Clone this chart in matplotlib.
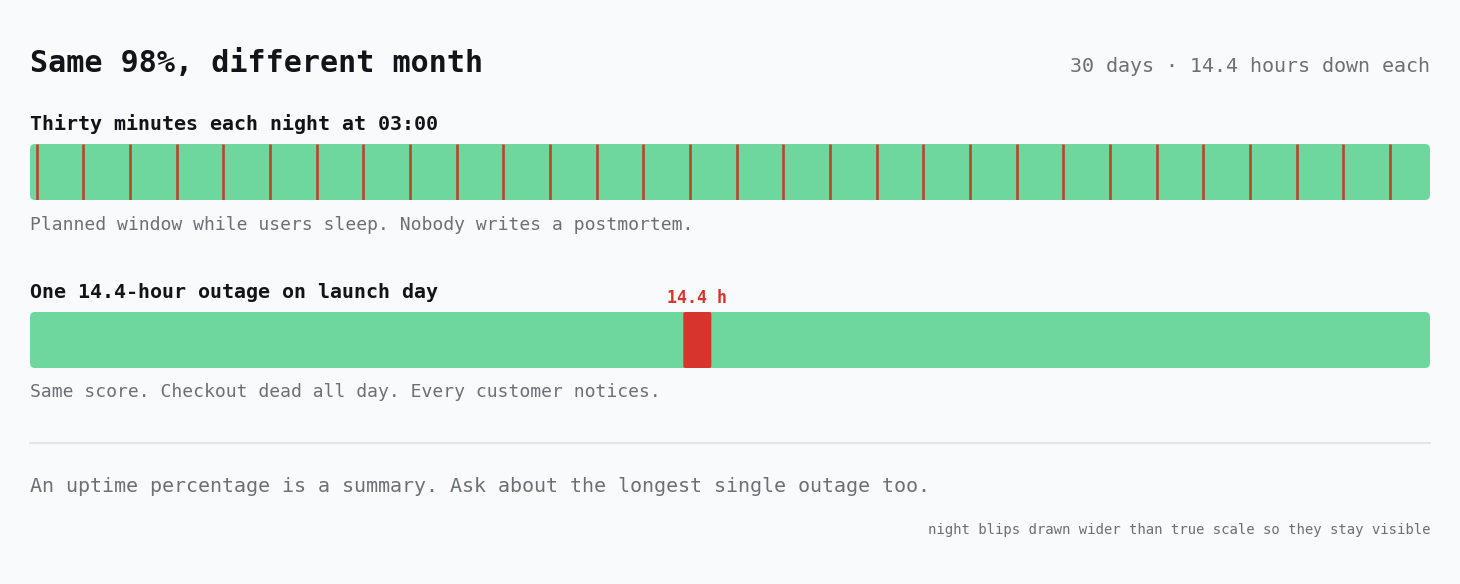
import matplotlib
matplotlib.use("Agg")
import matplotlib.pyplot as plt
from matplotlib.patches import FancyBboxPatch

# ---- data ----
n_days = 30
blip_days = list(range(30))          # one blip per night
blip_start_hour = 3.0                # 03:00
blip_true_minutes = 30
outage_day = 14
outage_hours = 14.4

title = "Same 98%, different month"
subtitle_right = "30 days · 14.4 hours down each"
row_titles = ["Thirty minutes each night at 03:00", "One 14.4-hour outage on launch day"]
row_notes = ["Planned window while users sleep. Nobody writes a postmortem.",
             "Same score. Checkout dead all day. Every customer notices."]
outage_label = "14.4 h"
takeaway = "An uptime percentage is a summary. Ask about the longest single outage too."
footnote = "night blips drawn wider than true scale so they stay visible"

# ---- style ----
W, H = 1460, 584
BG = "#f8fafc"
GREEN = "#6dd79d"
RED = "#d7342b"
BLIP = "#b9452e"
DARK = "#111418"
GRAY = "#6b7076"
MONO = ["DejaVu Sans Mono"]

fig = plt.figure(figsize=(W / 100, H / 100), dpi=100, facecolor=BG)

def fx(px):
    return px / W

def fy(py):
    return 1 - py / H

def add_bar_axes(top_px):
    ax = fig.add_axes([fx(30), fy(top_px + 56), fx(1400), 56 / H])
    ax.set_xlim(0, n_days)
    ax.set_ylim(0, 1)
    ax.axis("off")
    ax.patch.set_alpha(0)
    px_per_x = 1400 / n_days
    px_per_y = 56
    aspect = (1 / px_per_y) / (1 / px_per_x)
    bg = FancyBboxPatch((0, 0), n_days, 1,
                        boxstyle=f"round,pad=0,rounding_size={5 / px_per_x}",
                        mutation_aspect=aspect, fc=GREEN, ec="none", zorder=1)
    ax.add_patch(bg)
    return ax, bg, px_per_x, aspect

# Row 1: nightly blips (drawn as fixed-width lines, wider than true scale)
ax1, bg1, ppx, asp = add_bar_axes(144)
blip_x = [d + (blip_start_hour + blip_true_minutes / 60) / 24 for d in blip_days]
lc = ax1.vlines(blip_x, 0, 1, colors=BLIP, linewidth=1.9, zorder=2)
lc.set_clip_path(bg1)

# Row 2: single outage
ax2, bg2, ppx, asp = add_bar_axes(312)
ow = outage_hours / 24
blk = FancyBboxPatch((outage_day, 0), ow, 1,
                     boxstyle=f"round,pad=0,rounding_size={2 / ppx}",
                     mutation_aspect=asp, fc=RED, ec="none", zorder=2)
ax2.add_patch(blk)
ax2.text(outage_day + ow / 2, 1 + 14 / 56, outage_label, ha="center", va="center",
         fontsize=12, fontweight="bold", color=RED, family=MONO, clip_on=False)

# ---- texts ----
fig.text(fx(30), fy(63), title, fontsize=21.6, fontweight="bold", color=DARK,
         family=MONO, ha="left", va="center")
fig.text(fx(1430), fy(66), subtitle_right, fontsize=14.4, color=GRAY,
         family=MONO, ha="right", va="center")
fig.text(fx(30), fy(124), row_titles[0], fontsize=14.4, fontweight="bold", color=DARK,
         family=MONO, ha="left", va="center")
fig.text(fx(30), fy(225), row_notes[0], fontsize=13, color=GRAY,
         family=MONO, ha="left", va="center")
fig.text(fx(30), fy(292), row_titles[1], fontsize=14.4, fontweight="bold", color=DARK,
         family=MONO, ha="left", va="center")
fig.text(fx(30), fy(392), row_notes[1], fontsize=13, color=GRAY,
         family=MONO, ha="left", va="center")

fig.add_artist(plt.Line2D([fx(30), fx(1430)], [fy(443), fy(443)],
                          transform=fig.transFigure, color="#e2e5e9", lw=1.5))

fig.text(fx(30), fy(487), takeaway, fontsize=14.4, color=GRAY,
         family=MONO, ha="left", va="center")
fig.text(fx(1430), fy(530), footnote, fontsize=10.1, color=GRAY,
         family=MONO, ha="right", va="center")

fig.savefig("out.png", dpi=100, facecolor=BG)
